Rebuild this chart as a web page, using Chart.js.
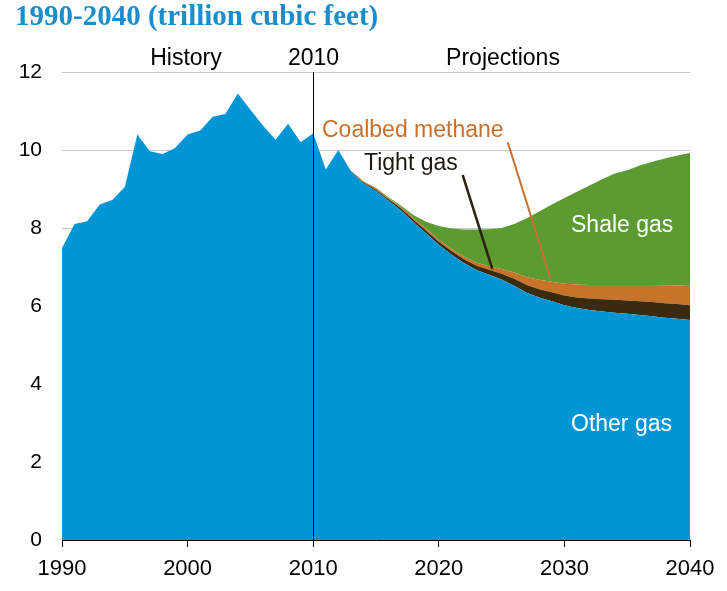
<!DOCTYPE html>
<html>
<head>
<meta charset="utf-8">
<script src="https://cdn.jsdelivr.net/npm/chart.js@4"></script>
<style>
  html, body { margin: 0; padding: 0; background: #fff; }
  #wrap { position: relative; width: 727px; height: 591px; }
</style>
</head>
<body>
<div id="wrap"><canvas id="gas-chart" width="727" height="591"></canvas></div>
<script>
// 数据：年份与各类天然气产量（万亿立方英尺）
const years = [];
for (let y = 1990; y <= 2040; y++) years.push(y);

const otherGas = [
  7.49, 8.10, 8.17, 8.60, 8.72, 9.05, 10.40, 9.97, 9.90, 10.05,
  10.40, 10.50, 10.85, 10.92, 11.45, 11.03, 10.63, 10.26, 10.67, 10.20,
  10.43, 9.50, 10.00, 9.45, 9.15, 8.95, 8.70, 8.45, 8.15, 7.86,
  7.57, 7.32, 7.10, 6.92, 6.80, 6.68, 6.52, 6.34, 6.22, 6.12,
  6.02, 5.95, 5.90, 5.86, 5.83, 5.80, 5.77, 5.74, 5.70, 5.67,
  5.64
];
const tightGas = [
  0, 0, 0, 0, 0, 0, 0, 0, 0, 0,
  0, 0, 0, 0, 0, 0, 0, 0, 0, 0,
  0, 0, 0, 0.01, 0.02, 0.03, 0.04, 0.05, 0.06, 0.07,
  0.08, 0.09, 0.10, 0.11, 0.13, 0.15, 0.18, 0.20, 0.21, 0.23,
  0.25, 0.27, 0.29, 0.31, 0.33, 0.34, 0.35, 0.36, 0.37, 0.38,
  0.38
];
const coalbedMethane = [
  0, 0, 0, 0, 0, 0, 0, 0, 0, 0,
  0, 0, 0, 0, 0, 0, 0, 0, 0, 0,
  0, 0, 0, 0.01, 0.02, 0.03, 0.03, 0.04, 0.04, 0.05,
  0.05, 0.06, 0.07, 0.08, 0.09, 0.12, 0.16, 0.20, 0.24, 0.27,
  0.30, 0.33, 0.35, 0.37, 0.38, 0.40, 0.42, 0.44, 0.46, 0.48,
  0.49
];
const shaleGas = [
  0, 0, 0, 0, 0, 0, 0, 0, 0, 0,
  0, 0, 0, 0, 0, 0, 0, 0, 0, 0,
  0, 0, 0, 0, 0.01, 0.02, 0.02, 0.03, 0.08, 0.18,
  0.35, 0.52, 0.69, 0.85, 0.95, 1.05, 1.24, 1.51, 1.75, 1.98,
  2.20, 2.38, 2.55, 2.71, 2.86, 2.94, 3.06, 3.16, 3.25, 3.33,
  3.41
];
const xTicks = [1990, 2000, 2010, 2020, 2030, 2040];
const yTicks = [0, 2, 4, 6, 8, 10, 12];

const FONT = "'Liberation Sans', Arial, sans-serif";

function toPoints(values) {
  return values.map((v, i) => ({ x: years[i], y: v }));
}

function areaSet(label, values, color, fill) {
  return {
    label: label,
    data: toPoints(values),
    backgroundColor: color,
    borderColor: color,
    borderWidth: 0,
    pointRadius: 0,
    tension: 0,
    fill: fill
  };
}

// 标注、标题与 2010 分隔线
const annotations = {
  id: 'annotations',
  afterDatasetsDraw(chart) {
    const ctx = chart.ctx;
    const xs = chart.scales.x;
    const ys = chart.scales.y;
    const x2010 = Math.round(xs.getPixelForValue(2010)) + 0.5;

    ctx.save();
    // 2010 竖线
    ctx.strokeStyle = '#000';
    ctx.lineWidth = 1;
    ctx.beginPath();
    ctx.moveTo(x2010, ys.getPixelForValue(12));
    ctx.lineTo(x2010, ys.getPixelForValue(0));
    ctx.stroke();

    // 引导线
    ctx.lineCap = 'round';
    ctx.strokeStyle = '#c8702a';
    ctx.lineWidth = 2;
    ctx.beginPath();
    ctx.moveTo(508, 143);
    ctx.lineTo(550, 277);
    ctx.stroke();

    ctx.strokeStyle = '#2e2410';
    ctx.lineWidth = 2.5;
    ctx.beginPath();
    ctx.moveTo(463, 176);
    ctx.lineTo(492, 268);
    ctx.stroke();

    // 文字
    ctx.textBaseline = 'middle';
    ctx.font = '23px ' + FONT;
    ctx.fillStyle = '#000';
    ctx.textAlign = 'center';
    ctx.fillText('History', 186, 59);
    ctx.fillText('2010', x2010, 59);
    ctx.fillText('Projections', 503, 59);

    ctx.textAlign = 'left';
    ctx.fillStyle = '#c8702a';
    ctx.fillText('Coalbed methane', 322, 131);
    ctx.fillStyle = '#1e1a10';
    ctx.fillText('Tight gas', 364, 164);
    ctx.fillStyle = '#fff';
    ctx.fillText('Shale gas', 571, 226);
    ctx.fillText('Other gas', 571, 425);

    // 标题
    ctx.fillStyle = '#1a8dcc';
    ctx.font = "bold 29px 'Liberation Serif', 'Times New Roman', serif";
    ctx.fillText('1990-2040 (trillion cubic feet)', 15, 18);
    ctx.restore();
  }
};

const ctx = document.getElementById('gas-chart').getContext('2d');
window.gasChart = new Chart(ctx, {
  type: 'line',
  data: {
    datasets: [
      areaSet('Other gas', otherGas, '#0096d6', 'origin'),
      areaSet('Tight gas', tightGas, '#3a2a0e', '-1'),
      areaSet('Coalbed methane', coalbedMethane, '#c8732a', '-1'),
      areaSet('Shale gas', shaleGas, '#5b9b32', '-1')
    ]
  },
  options: {
    responsive: false,
    animation: false,
    layout: { padding: { top: 72, right: 37, left: 0, bottom: 0 } },
    plugins: {
      legend: { display: false },
      tooltip: { enabled: false },
      title: { display: false }
    },
    scales: {
      x: {
        type: 'linear',
        min: 1990,
        max: 2040,
        afterBuildTicks(scale) {
          scale.ticks = xTicks.map(v => ({ value: v }));
        },
        afterFit(scale) { scale.height = 51; },
        ticks: {
          color: '#000',
          font: { family: FONT, size: 22 },
          padding: 9,
          maxRotation: 0,
          callback: v => String(v)
        },
        grid: {
          drawOnChartArea: false,
          drawTicks: true,
          tickLength: 7,
          color: '#000',
          lineWidth: 1
        },
        border: { display: true, color: '#000', width: 1 }
      },
      y: {
        stacked: true,
        min: 0,
        max: 12,
        afterBuildTicks(scale) {
          scale.ticks = yTicks.map(v => ({ value: v }));
        },
        afterFit(scale) { scale.width = 62; },
        ticks: {
          color: '#000',
          font: { family: FONT, size: 21 },
          padding: 20
        },
        grid: {
          drawTicks: false,
          color: '#c8c8c8',
          lineWidth: 1
        },
        border: { display: false }
      }
    }
  },
  plugins: [annotations]
});
</script>
</body>
</html>
